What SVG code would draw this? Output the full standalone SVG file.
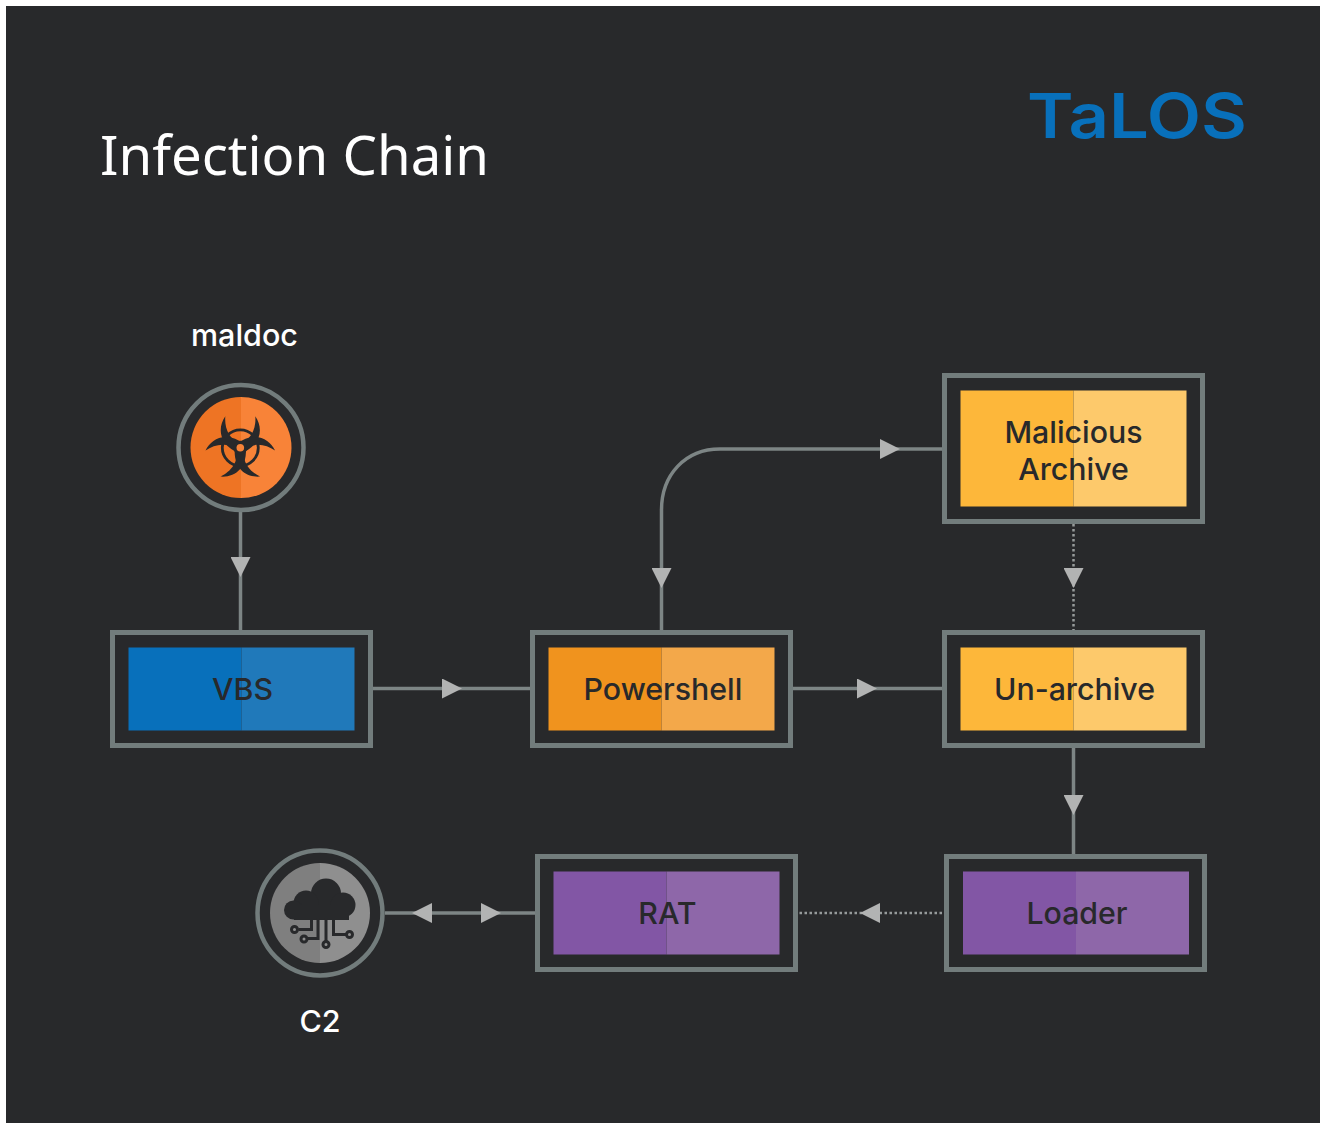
<svg xmlns="http://www.w3.org/2000/svg" width="1320" height="1123" viewBox="0 0 1320 1123">
<style>
.frame{fill:none;stroke:#727c7c;stroke-width:5}
.lbl{font-family:"Inter","Liberation Sans",sans-serif;font-weight:500;font-size:30.300px;fill:#28292b;text-anchor:middle}
.cap{font-family:"Inter","Liberation Sans",sans-serif;font-weight:500;font-size:30.500px;fill:#fff;text-anchor:middle}
.ring{fill:none;stroke:#727c7c;stroke-width:4.500}
.conn{fill:none;stroke:#7d8585;stroke-width:3.500}
.dot{fill:none;stroke:#969b9b;stroke-width:2.500;stroke-dasharray:2.500 2.500}
.dk{fill:#28292b}
.ln{fill:none;stroke:#28292b;stroke-width:3}
</style>
<defs>
<marker id="arr" markerUnits="userSpaceOnUse" markerWidth="20" markerHeight="20" refX="20" refY="10" orient="auto"><polygon points="0,0 20,10 0,20" fill="#b2b3b3"/></marker>
<path id="lobe" d="M-15,-31.500 C-23,-20 -22,-3 0,6 C22,-3 23,-20 15,-31.500 C16,-20 11,-7 0,-6 C-11,-7 -16,-20 -15,-31.500Z"/>
</defs>
<rect x="6" y="6" width="1314" height="1117" fill="#28292b"/>
<text id="title" x="100" y="175" font-family="'Noto Sans','Open Sans',sans-serif" font-size="54" fill="#fff" textLength="389" lengthAdjust="spacingAndGlyphs">Infection Chain</text>
<text id="logo" x="1027" y="138" font-family="'Inter','Liberation Sans',sans-serif" font-weight="600" font-size="62" fill="#0870bb" textLength="220" lengthAdjust="spacingAndGlyphs">TaLOS</text>
<g id="connectors">
<path class="conn" d="M240.500 512V577V630" marker-mid="url(#arr)"/>
<path class="conn" d="M373 688.500H462H530" marker-mid="url(#arr)"/>
<path class="conn" d="M793 688.500H877H942" marker-mid="url(#arr)"/>
<path class="conn" d="M720 449C685 449 661.500 475 661.500 510V588" marker-end="url(#arr)"/>
<path class="conn" d="M661.500 588V630"/>
<path class="conn" d="M720 449H900" marker-end="url(#arr)"/>
<path class="conn" d="M900 449H942"/>
<path class="dot" d="M1073.500 524V588V630" marker-mid="url(#arr)"/>
<path class="conn" d="M1073.500 748V815V854" marker-mid="url(#arr)"/>
<path class="dot" d="M942 913H860H798" marker-mid="url(#arr)"/>
<path class="conn" d="M456 913H412H385" marker-mid="url(#arr)"/>
<path class="conn" d="M456 913H501H535" marker-mid="url(#arr)"/>
</g>
<g id="maldoc">
<text class="cap" x="244.500" y="346">maldoc</text>
<circle class="ring" cx="241" cy="447.500" r="62.500"/>
<path d="M241 397a50.500 50.500 0 0 0 0 101z" fill="#ee7424"/><path d="M241 397a50.500 50.500 0 0 1 0 101z" fill="#f88338"/>
<g transform="translate(240.300 447.800)">
<circle r="18" fill="none" stroke="#28292b" stroke-width="2.800"/>
<use href="#lobe" class="dk"/>
<use href="#lobe" class="dk" transform="rotate(120)"/>
<use href="#lobe" class="dk" transform="rotate(240)"/>
<circle r="7" class="dk"/><circle r="3.800" fill="#f88338"/>
</g>
</g>
<g id="vbs">
<rect class="frame" x="112.500" y="632.500" width="258" height="113"/>
<rect x="128.500" y="647.500" width="113" height="83" fill="#0870bb"/><rect x="241.500" y="647.500" width="113" height="83" fill="#2079ba"/>
<text class="lbl" x="242.500" y="700">VBS</text>
</g>
<g id="powershell">
<rect class="frame" x="532.500" y="632.500" width="258" height="113"/>
<rect x="548.500" y="647.500" width="113" height="83" fill="#f0931e"/><rect x="661.500" y="647.500" width="113" height="83" fill="#f3a84a"/>
<text class="lbl" x="663" y="700">Powershell</text>
</g>
<g id="unarchive">
<rect class="frame" x="944.500" y="632.500" width="258" height="113"/>
<rect x="960.500" y="647.500" width="113" height="83" fill="#fdb73a"/><rect x="1073.500" y="647.500" width="113" height="83" fill="#fdc96b"/>
<text class="lbl" x="1074.500" y="700">Un-archive</text>
</g>
<g id="archive">
<rect class="frame" x="944.500" y="375.500" width="258" height="146"/>
<rect x="960.500" y="390.500" width="113" height="116" fill="#fdb73a"/><rect x="1073.500" y="390.500" width="113" height="116" fill="#fdc96b"/>
<text class="lbl" x="1073.500" y="443">Malicious</text>
<text class="lbl" x="1073.500" y="480">Archive</text>
</g>
<g id="rat">
<rect class="frame" x="537.500" y="856.500" width="258" height="113"/>
<rect x="553.500" y="871.500" width="113" height="83" fill="#8256a5"/><rect x="666.500" y="871.500" width="113" height="83" fill="#8e67a9"/>
<text class="lbl" x="667.500" y="924">RAT</text>
</g>
<g id="loader">
<rect class="frame" x="946.500" y="856.500" width="258" height="113"/>
<rect x="963" y="871.500" width="113" height="83" fill="#8256a5"/><rect x="1076" y="871.500" width="113" height="83" fill="#8e67a9"/>
<text class="lbl" x="1077" y="924">Loader</text>
</g>
<g id="c2">
<circle class="ring" cx="320" cy="913" r="62.500"/>
<path d="M320 863a50 50 0 0 0 0 100z" fill="#7f7f7f"/><path d="M320 863a50 50 0 0 1 0 100z" fill="#8f8f8f"/>
<g class="dk">
<circle cx="326" cy="893.500" r="15"/><circle cx="306" cy="903" r="12.500"/><circle cx="293.500" cy="910" r="9.500"/><circle cx="343" cy="905" r="12.500"/>
<rect x="294" y="905" width="55" height="15"/>
</g>
<path class="ln" d="M326 918V941M318 918V938.500H307M311.500 918V929.500H298.500M333.500 918V934.500H346"/>
<g fill="#8f8f8f" stroke="#28292b" stroke-width="3">
<circle cx="326" cy="944.500" r="3"/><circle cx="304" cy="939" r="3"/><circle cx="294.500" cy="929.500" r="3"/><circle cx="349.500" cy="934.500" r="3"/>
</g>
<text class="cap" x="320" y="1032">C2</text>
</g>
</svg>
